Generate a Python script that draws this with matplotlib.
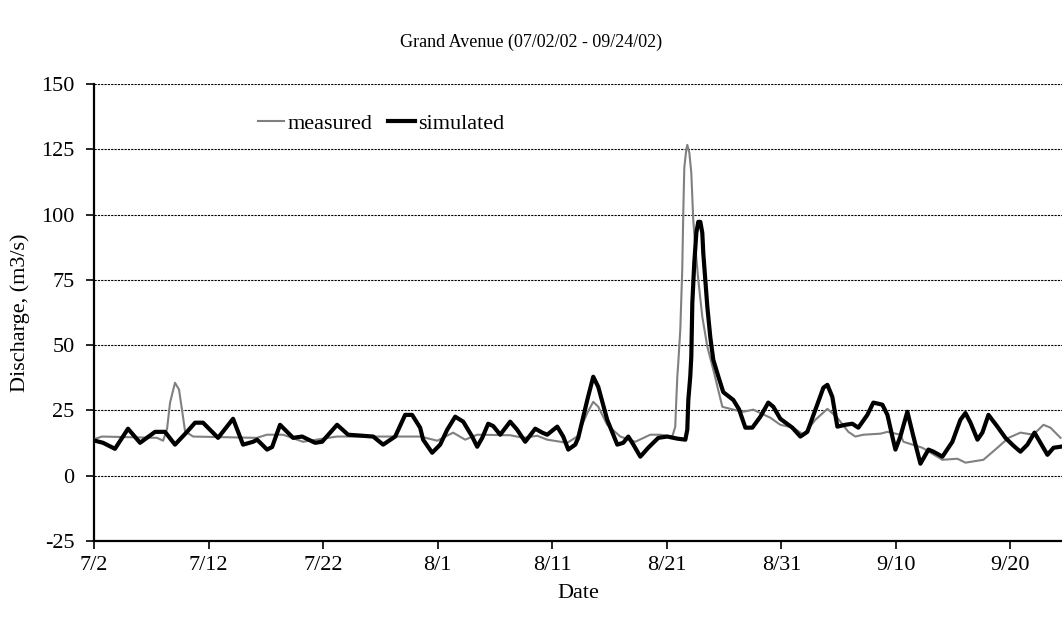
import matplotlib
matplotlib.use("Agg")
import matplotlib.pyplot as plt
import pandas as pd

plt.rcParams['font.family'] = ['Liberation Serif', 'DejaVu Serif']
plt.rcParams['axes.unicode_minus'] = False

start_date = "2002-07-02"
title = "Grand Avenue (07/02/02 - 09/24/02)"

# days since 7/2/02 and discharge (m3/s)
meas_days = [0, 0.7, 5.5, 6.03, 6.38, 6.64, 7.07, 7.42, 7.69, 7.95, 8.65, 14.2, 15.1, 16.5, 18.25,
             21.2, 28.5, 29.96, 31.35, 32.4, 33.45, 36.33, 37.47, 38.69, 39.56, 41.31, 42.18, 43.06,
             43.58, 44.02, 44.8, 45.94, 47.25, 48.56, 49.43, 50.48, 50.74, 50.83, 50.92, 51.0, 51.18,
             51.35, 51.44, 51.53, 51.7, 51.79, 51.97, 52.14, 52.31, 52.49, 52.75, 53.1, 53.54, 54.06,
             54.85, 55.81, 56.68, 57.55, 59.04, 59.91, 61.05, 61.92, 62.97, 64.02, 64.89, 65.85, 66.46,
             67.16, 68.65, 69.26, 70.39, 70.66, 72.31, 74.06, 75.37, 76.07, 77.64, 78.86, 79.83, 80.87,
             82.0, 82.88, 83.49, 84.37]
meas_vals = [14, 15, 14.5, 13.4, 18, 28, 35.6, 33, 25, 17, 15, 14.5, 15.7, 15.7, 13,
             15, 15, 13.4, 16.5, 13.8, 15.7, 15.5, 14.5, 15.3, 13.8, 12.6, 15, 24,
             28.3, 26.4, 19.5, 15, 13, 15.7, 15.7, 15, 18.8, 29, 38, 43, 56,
             78.9, 100.7, 118, 124.8, 126.7, 123.6, 116, 98, 87.7, 75, 60.9, 49.4, 40.6,
             26.4, 25.3, 24.5, 25.3, 22.2, 19.5, 18.4, 15.7, 21.4, 25.6, 22.2, 16.8, 15,
             15.7, 16.1, 16.8, 15.7, 13, 10.7, 6.1, 6.5, 5, 6.1, 10.7, 14.5, 16.5,
             15.7, 19.5, 18.4, 14.5]

sim_days = [0, 0.79, 1.83, 2.97, 4.02, 5.33, 6.2, 7.07, 8.12, 8.82, 9.52, 10.83, 12.14, 13.01,
            13.89, 14.24, 15.11, 15.55, 16.24, 17.38, 18.17, 19.3, 19.91, 21.22, 22.18, 24.37,
            25.24, 26.29, 27.16, 27.77, 28.47, 28.73, 29.52, 30.22, 30.83, 31.53, 32.23, 33.01,
            33.45, 33.89, 34.41, 34.85, 35.46, 36.33, 36.94, 37.64, 38.52, 39.13, 39.56, 40.44,
            40.96, 41.4, 42.01, 42.27, 43.06, 43.58, 44.02, 44.8, 45.68, 46.2, 46.64, 47.07,
            47.69, 48.38, 49.26, 50.04, 50.92, 51.62, 51.79, 51.88, 52.05, 52.14, 52.23, 52.4,
            52.58, 52.75, 52.93, 53.1, 53.19, 53.36, 53.54, 53.8, 54.06, 54.5, 54.93, 55.81,
            56.3, 56.86, 57.47, 58.17, 58.86, 59.3, 59.91, 60.96, 61.66, 62.27, 62.97, 63.67,
            64.02, 64.45, 64.89, 65.59, 66.2, 66.72, 67.51, 68.03, 68.82, 69.26, 69.69, 69.96,
            70.39, 71.0, 71.53, 72.14, 72.84, 73.28, 74.06, 74.93, 75.63, 76.07, 76.51, 77.12,
            77.55, 78.08, 78.86, 79.56, 80.26, 80.87, 81.48, 82.1, 82.62, 83.23, 83.76, 84.37]
sim_vals = [13.5, 12.6, 10.3, 18, 12.6, 16.8, 16.8, 11.9, 16.8, 20.3, 20.3, 14.5, 21.8, 11.9,
            13, 13.8, 10, 11, 19.5, 14.5, 15, 12.6, 13, 19.5, 15.7, 15,
            11.9, 15, 23.3, 23.3, 18.4, 13.8, 8.8, 11.9, 17.6, 22.6, 20.7, 15,
            11.1, 14.5, 19.9, 19, 15.7, 20.7, 17.6, 13, 18, 16.5, 15.7, 18.8,
            15, 10, 11.9, 14.5, 29, 37.9, 34, 21.4, 11.9, 12.6, 15, 12,
            7.3, 10.7, 14.5, 15, 14.2, 13.8, 17.6, 29, 38, 45.5, 66.2, 81.5,
            93, 97.2, 97.2, 93, 85, 75, 64.7, 53, 44.4, 38, 32, 29,
            25.5, 18.4, 18.4, 22.6, 28, 26.4, 21.8, 18.4, 15, 16.8, 25.3, 33.7,
            34.8, 30.2, 18.8, 19.5, 19.9, 18.4, 23.3, 28, 27.2, 23.3, 15, 10,
            15, 24.5, 15, 4.6, 10, 9.2, 7.3, 13, 21.4, 24, 20.3, 13.8,
            16.5, 23.3, 18.8, 14.5, 11.5, 9.2, 11.9, 16.5, 12.6, 8, 10.7, 11.1]

y_ticks = [-25, 0, 25, 50, 75, 100, 125, 150]

t0 = pd.Timestamp(start_date)
meas_t = t0 + pd.to_timedelta(meas_days, unit="D")
sim_t = t0 + pd.to_timedelta(sim_days, unit="D")

fig = plt.figure(figsize=(10.62, 6.3), dpi=100)
ax = fig.add_axes([94/1062, 1 - 541/630, 1 - 94/1062, (541 - 84)/630])

ax.plot(meas_t, meas_vals, color="#808080", lw=1.5, label="measured", zorder=3)
ax.plot(sim_t, sim_vals, color="black", lw=3.0, label="simulated", zorder=4)

ax.set_ylim(-25, 150)
ax.set_yticks(y_ticks)
ax.set_xlim(t0, t0 + pd.Timedelta(days=84.5))
ticks = [t0 + pd.Timedelta(days=10 * i) for i in range(9)]
ax.set_xticks(ticks)
ax.set_xticklabels([f"{t.month}/{t.day}" for t in ticks])

for y in y_ticks[1:]:
    ax.axhline(y, color="black", lw=0.8, ls=(0, (2, 1)), zorder=1)

for s in ["top", "right"]:
    ax.spines[s].set_visible(False)
for s in ["left", "bottom"]:
    ax.spines[s].set_linewidth(1.6)
ax.tick_params(axis="both", direction="out", length=6, width=1.2, labelsize=16, pad=8)
ax.tick_params(axis="x", pad=5)

ax.set_xlabel("Date", fontsize=16, labelpad=6)
ax.set_ylabel("Discharge, (m3/s)", fontsize=16, labelpad=8)
fig.text(0.5, 1 - 42/630, title, ha="center", va="center", fontsize=13)

leg = ax.legend(loc="upper left", bbox_to_anchor=(0.16, 0.955), ncol=2, frameon=False,
                fontsize=16, handlelength=1.2, handletextpad=0.15, columnspacing=0.7,
                borderaxespad=0.0)

fig.savefig("out.png", dpi=100)
